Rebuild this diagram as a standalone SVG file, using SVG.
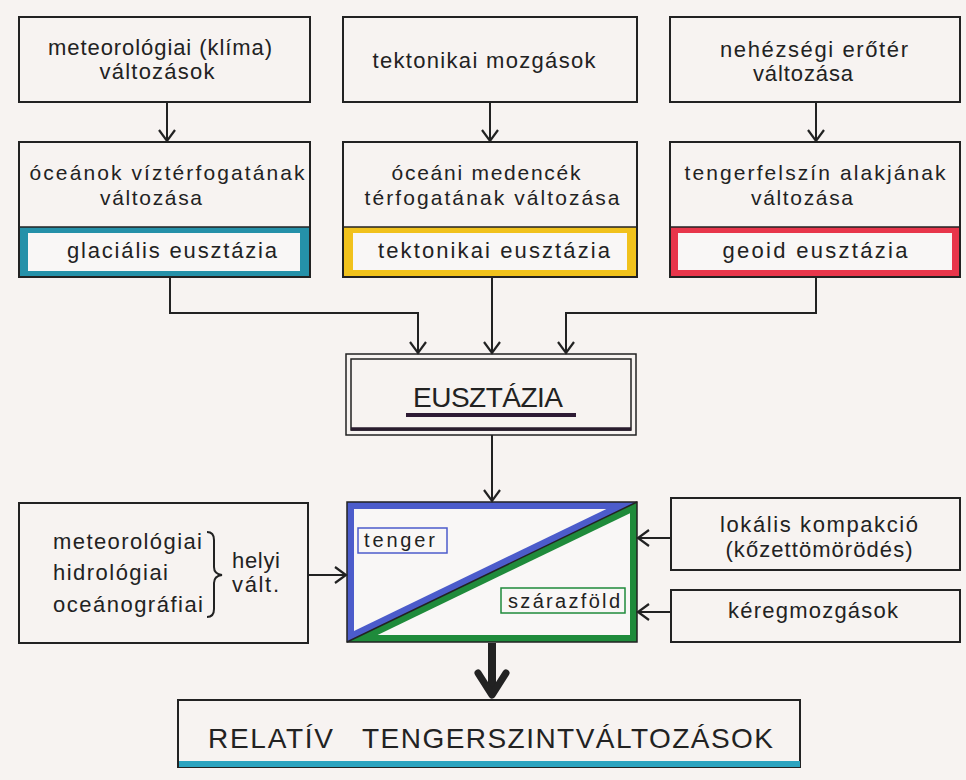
<svg xmlns="http://www.w3.org/2000/svg" width="966" height="780" viewBox="0 0 966 780">
<style>
.box{fill:none;stroke:#222;stroke-width:2}
.t{font-family:"Liberation Sans",Arial,sans-serif;font-size:22px;fill:#222}
.t2{font-family:"Liberation Sans",Arial,sans-serif;font-size:21px;fill:#222}
.big{font-family:"Liberation Sans",Arial,sans-serif;font-size:28px;fill:#222}
.lab{font-family:"Liberation Sans",Arial,sans-serif;font-size:20px;fill:#222}
.con{fill:none;stroke:#222;stroke-width:2;marker-end:url(#arr)}
</style>
<defs>
<marker id="arr" markerUnits="userSpaceOnUse" markerWidth="24" markerHeight="24" viewBox="-12 -12 24 24" refX="0" refY="0" orient="auto">
<path d="M-11,-8 L0,0 L-11,8" fill="none" stroke="#222" stroke-width="2.2"/>
</marker>
</defs>
<rect width="966" height="780" fill="#f7f3f1"/>

<g id="n-meteo">
<rect class="box" x="19" y="17" width="291" height="85"/>
<text class="t" x="160" y="55" textLength="224" lengthAdjust="spacing" text-anchor="middle">meteorológiai (klíma)</text>
<text class="t" x="157" y="79" textLength="115" lengthAdjust="spacing" text-anchor="middle">változások</text>
</g>
<g id="n-tekt">
<rect class="box" x="343" y="17" width="294" height="85"/>
<text class="t" x="484" y="68" textLength="223" lengthAdjust="spacing" text-anchor="middle">tektonikai mozgások</text>
</g>
<g id="n-nehez">
<rect class="box" x="670" y="17" width="290" height="85"/>
<text class="t" x="814" y="57" textLength="188" lengthAdjust="spacing" text-anchor="middle">nehézségi erőtér</text>
<text class="t" x="803" y="81" textLength="100" lengthAdjust="spacing" text-anchor="middle">változása</text>
</g>

<g id="n-ocean">
<rect x="19" y="227" width="291" height="50" fill="#2591a9"/>
<rect x="28" y="233" width="272" height="38" fill="#f9f7f6"/>
<line x1="19" y1="227" x2="310" y2="227" stroke="#222" stroke-width="1.5"/>
<rect class="box" x="19" y="142" width="291" height="135"/>
<text class="t2" x="167" y="180" textLength="275" lengthAdjust="spacing" text-anchor="middle">óceánok víztérfogatának</text>
<text class="t2" x="151" y="205" textLength="102" lengthAdjust="spacing" text-anchor="middle">változása</text>
<text class="t" x="172" y="258" textLength="210" lengthAdjust="spacing" text-anchor="middle">glaciális eusztázia</text>
</g>
<g id="n-medence">
<rect x="343" y="227" width="294" height="50" fill="#f1c21c"/>
<rect x="353" y="233" width="274" height="37" fill="#f9f7f6"/>
<line x1="343" y1="227" x2="637" y2="227" stroke="#222" stroke-width="1.5"/>
<rect class="box" x="343" y="142" width="294" height="135"/>
<text class="t2" x="486" y="180" textLength="189" lengthAdjust="spacing" text-anchor="middle">óceáni medencék</text>
<text class="t2" x="492" y="205" textLength="255" lengthAdjust="spacing" text-anchor="middle">térfogatának változása</text>
<text class="t" x="494" y="258" textLength="232" lengthAdjust="spacing" text-anchor="middle">tektonikai eusztázia</text>
</g>
<g id="n-tengerf">
<rect x="670" y="227" width="290" height="50" fill="#e8364b"/>
<rect x="678" y="233" width="274" height="37" fill="#f9f7f6"/>
<line x1="670" y1="227" x2="960" y2="227" stroke="#222" stroke-width="1.5"/>
<rect class="box" x="670" y="142" width="290" height="135"/>
<text class="t2" x="815" y="180" textLength="261" lengthAdjust="spacing" text-anchor="middle">tengerfelszín alakjának</text>
<text class="t2" x="802" y="205" textLength="102" lengthAdjust="spacing" text-anchor="middle">változása</text>
<text class="t" x="815" y="258" textLength="185" lengthAdjust="spacing" text-anchor="middle">geoid eusztázia</text>
</g>

<g id="n-eusztazia">
<rect x="346" y="354" width="290" height="81" fill="none" stroke="#222" stroke-width="1.5"/>
<rect x="351" y="359" width="280" height="71" fill="none" stroke="#222" stroke-width="1.5"/>
<line x1="351" y1="429" x2="631" y2="429" stroke="#2a1d2e" stroke-width="3.5"/>
<text class="big" x="488" y="407" textLength="150" lengthAdjust="spacing" text-anchor="middle">EUSZTÁZIA</text>
<line x1="406" y1="415" x2="576" y2="415" stroke="#2e1b35" stroke-width="4"/>
</g>

<g id="n-center">
<polygon points="347,502 637,502 347,642" fill="#4c5ccb"/>
<polygon points="354,509 606.4,509 354,630.9" fill="#f9f7f6"/>
<polygon points="637,502 637,642 347,642" fill="#1f8b3b"/>
<polygon points="630,513.2 630,635 377.6,635" fill="#f9f7f6"/>
<line x1="347" y1="642" x2="637" y2="502" stroke="#222" stroke-width="1.5"/>
<rect x="347" y="502" width="290" height="140" fill="none" stroke="#222" stroke-width="1.5"/>
<rect x="358" y="528" width="89" height="25" fill="none" stroke="#4c5ccb" stroke-width="1.5"/>
<text class="lab" x="364" y="547" textLength="71" lengthAdjust="spacing">tenger</text>
<rect x="501" y="588" width="124" height="25" fill="none" stroke="#1f8b3b" stroke-width="1.5"/>
<text class="lab" x="508" y="608" textLength="112" lengthAdjust="spacing">szárazföld</text>
</g>

<g id="n-helyi">
<rect class="box" x="19" y="503" width="289" height="140"/>
<text class="t" x="53" y="549" textLength="149" lengthAdjust="spacing">meteorológiai</text>
<text class="t" x="53" y="580" textLength="115" lengthAdjust="spacing">hidrológiai</text>
<text class="t" x="53" y="612" textLength="150" lengthAdjust="spacing">oceánográfiai</text>
<path d="M207,532 Q214,532 214,540 L214,567 Q214,574 222,575 Q214,576 214,583 L214,609 Q214,617 207,617" fill="none" stroke="#222" stroke-width="2"/>
<text class="t" x="232" y="568" textLength="48" lengthAdjust="spacing">helyi</text>
<text class="t" x="232" y="592" textLength="47" lengthAdjust="spacing">vált.</text>
</g>

<g id="n-lokalis">
<rect class="box" x="671" y="498" width="289" height="72"/>
<text class="t" x="819" y="532" textLength="198" lengthAdjust="spacing" text-anchor="middle">lokális kompakció</text>
<text class="t" x="819" y="557" textLength="187" lengthAdjust="spacing" text-anchor="middle">(kőzettömörödés)</text>
</g>
<g id="n-kereg">
<rect class="box" x="671" y="590" width="289" height="52"/>
<text class="t" x="813" y="618" textLength="170" lengthAdjust="spacing" text-anchor="middle">kéregmozgások</text>
</g>

<g id="n-relativ">
<rect class="box" x="178" y="700" width="622" height="67"/>
<rect x="179" y="761" width="621" height="6" fill="#2ba3bf"/>
<text class="big" x="208" y="748" textLength="125" lengthAdjust="spacing">RELATÍV</text>
<text class="big" x="362" y="748" textLength="411" lengthAdjust="spacing">TENGERSZINTVÁLTOZÁSOK</text>
</g>

<g id="connectors">
<path class="con" d="M167,102 V141"/>
<path class="con" d="M490,102 V141"/>
<path class="con" d="M816,102 V141"/>
<path class="con" d="M170,277 V313 H418 V353"/>
<path class="con" d="M492,277 V353"/>
<path class="con" d="M816,277 V313 H566 V353"/>
<path class="con" d="M492,435 V501"/>
<path class="con" d="M308,575 H346"/>
<path class="con" d="M671,538 H638"/>
<path class="con" d="M671,612 H638"/>
<path d="M492,643 V694" fill="none" stroke="#222" stroke-width="8"/>
<path d="M478,673 L492,695 L506,673" fill="none" stroke="#222" stroke-width="7" stroke-linecap="round" stroke-linejoin="round"/>
</g>
</svg>
